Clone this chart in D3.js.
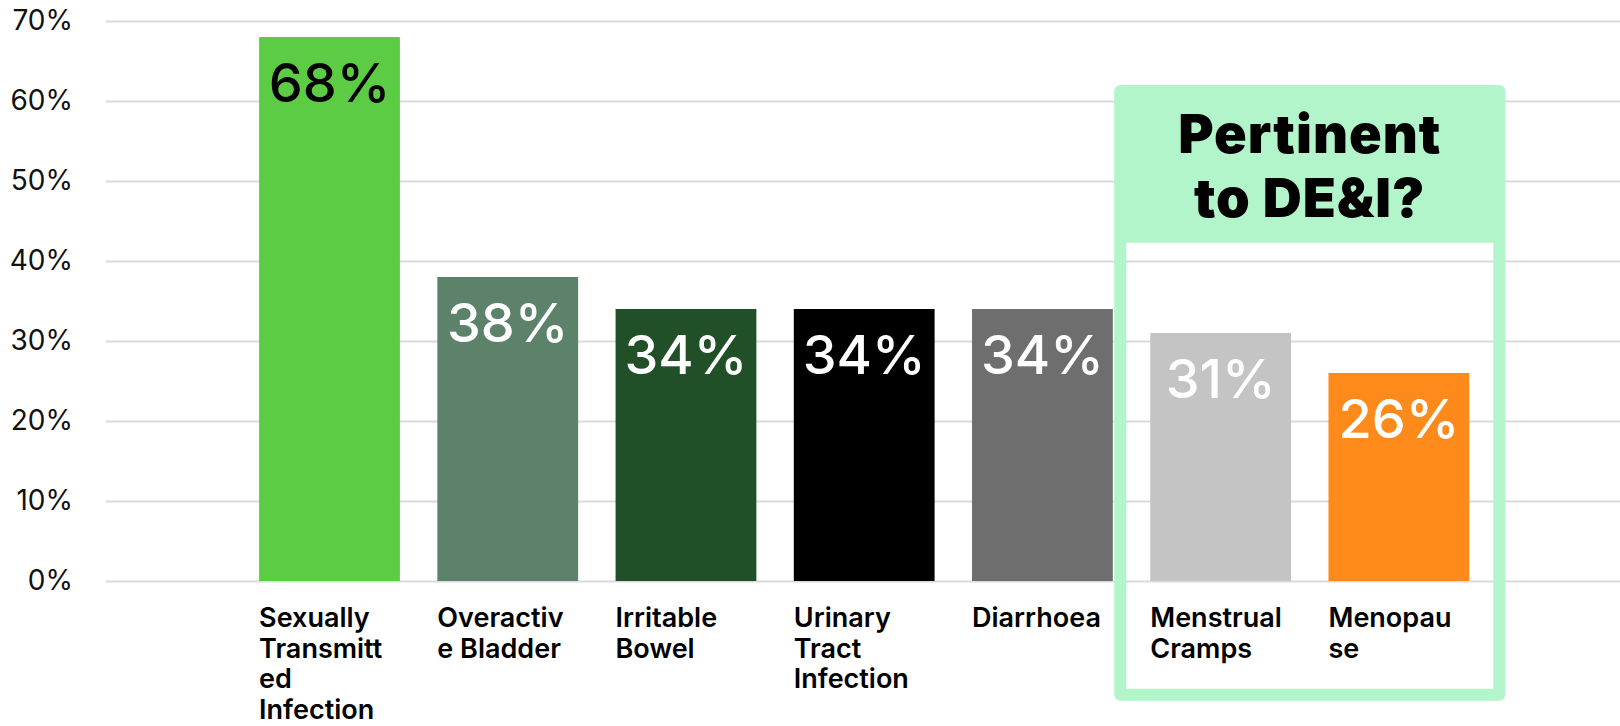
<!DOCTYPE html>
<html>
<head>
<meta charset="utf-8">
<script src="https://cdn.jsdelivr.net/npm/d3@7"></script>
<style>
  html, body { margin: 0; padding: 0; background: #ffffff; }
  svg { display: block; }
  text { font-family: "Inter", "Noto Sans", "Liberation Sans", sans-serif; }
</style>
</head>
<body>
<svg id="chart" width="1620" height="726"></svg>
<script>
// Share of respondents per condition
const categories = [
  "Sexually Transmitted Infection",
  "Overactive Bladder",
  "Irritable Bowel",
  "Urinary Tract Infection",
  "Diarrhoea",
  "Menstrual Cramps",
  "Menopause"
];
const values = [0.68, 0.38, 0.34, 0.34, 0.34, 0.31, 0.26];
// Category labels as they wrap under each bar
const labelLines = [
  ["Sexually", "Transmitt", "ed", "Infection"],
  ["Overactiv", "e Bladder"],
  ["Irritable", "Bowel"],
  ["Urinary", "Tract", "Infection"],
  ["Diarrhoea"],
  ["Menstrual", "Cramps"],
  ["Menopau", "se"]
];
const barColors = ["#5ccc44", "#5c826a", "#214f27", "#000000", "#6e6e6e", "#c4c4c4", "#ff8a1c"];
const valueTextColors = ["#000000", "#ffffff", "#ffffff", "#ffffff", "#ffffff", "#ffffff", "#ffffff"];
const yTicks = [0, 0.1, 0.2, 0.3, 0.4, 0.5, 0.6, 0.7];
const highlighted = ["Menstrual Cramps", "Menopause"];
const highlightTitle = ["Pertinent", "to DE&I?"];

const svg = d3.select("#chart");

const y = d3.scaleLinear().domain([0, 0.7]).range([581, 21]);
const x = d3.scaleBand()
  .domain(categories)
  .range([240.4, 1488])
  .paddingInner(0.21)
  .paddingOuter(0.105);

const fmt = d3.format(".0%");

// Horizontal gridlines and percentage ticks
const yAxis = d3.axisLeft(y)
  .tickValues(yTicks)
  .tickFormat(fmt)
  .tickSize(-(1620 - 106))
  .tickPadding(33);

const yg = svg.append("g")
  .attr("transform", "translate(106,0)")
  .call(yAxis);
yg.select(".domain").remove();
yg.selectAll(".tick line")
  .attr("stroke", "#dadada")
  .attr("stroke-width", 2);
yg.selectAll(".tick text")
  .attr("fill", "#111111")
  .attr("font-size", 28)
  .attr("font-weight", 400)
  .style("font-family", "Inter, 'Noto Sans', sans-serif");

// Highlight frame around the last two categories
const pad = 36;
const bx0 = x(highlighted[0]) - pad;
const bx1 = x(highlighted[1]) + x.bandwidth() + pad;
const by0 = 85, by1 = 700.7, border = 12, headerBottom = 242.7, r = 6;
const framePath = d3.path();
framePath.moveTo(bx0 + r, by0);
framePath.lineTo(bx1 - r, by0);
framePath.arcTo(bx1, by0, bx1, by0 + r, r);
framePath.lineTo(bx1, by1 - r);
framePath.arcTo(bx1, by1, bx1 - r, by1, r);
framePath.lineTo(bx0 + r, by1);
framePath.arcTo(bx0, by1, bx0, by1 - r, r);
framePath.lineTo(bx0, by0 + r);
framePath.arcTo(bx0, by0, bx0 + r, by0, r);
framePath.closePath();
// inner opening
framePath.moveTo(bx0 + border, headerBottom);
framePath.lineTo(bx0 + border, by1 - border);
framePath.lineTo(bx1 - border, by1 - border);
framePath.lineTo(bx1 - border, headerBottom);
framePath.closePath();

svg.append("path")
  .attr("d", framePath.toString())
  .attr("fill", "#b2f5ca")
  .attr("fill-rule", "evenodd");

svg.append("g")
  .selectAll("text")
  .data(highlightTitle)
  .join("text")
  .attr("x", (bx0 + bx1) / 2)
  .attr("y", (d, i) => 153.3 + i * 63.4)
  .attr("text-anchor", "middle")
  .attr("font-size", 54)
  .attr("font-weight", 900)
  .attr("letter-spacing", 1)
  .attr("fill", "#000000")
  .text(d => d);

// Bars
svg.append("g")
  .selectAll("rect")
  .data(categories)
  .join("rect")
  .attr("x", d => x(d))
  .attr("y", (d, i) => y(values[i]))
  .attr("width", x.bandwidth())
  .attr("height", (d, i) => y(0) - y(values[i]))
  .attr("fill", (d, i) => barColors[i]);

// Value labels inside the top of each bar
svg.append("g")
  .selectAll("text")
  .data(categories)
  .join("text")
  .attr("x", d => x(d) + x.bandwidth() / 2)
  .attr("y", (d, i) => y(values[i]) + 65)
  .attr("text-anchor", "middle")
  .attr("font-size", 54)
  .attr("font-weight", 500)
  .attr("fill", (d, i) => valueTextColors[i])
  .text((d, i) => fmt(values[i]));

// Category labels beneath the bars
const catG = svg.append("g")
  .selectAll("text")
  .data(categories)
  .join("text")
  .attr("x", d => x(d))
  .attr("y", y(0) + 46)
  .attr("font-size", 27)
  .attr("font-weight", 600)
  .attr("fill", "#000000");

catG.selectAll("tspan")
  .data((d, i) => labelLines[i].map(t => ({ t, x: x(d) })))
  .join("tspan")
  .attr("x", d => d.x)
  .attr("dy", (d, j) => j === 0 ? 0 : 30.6)
  .text(d => d.t);
</script>
</body>
</html>
